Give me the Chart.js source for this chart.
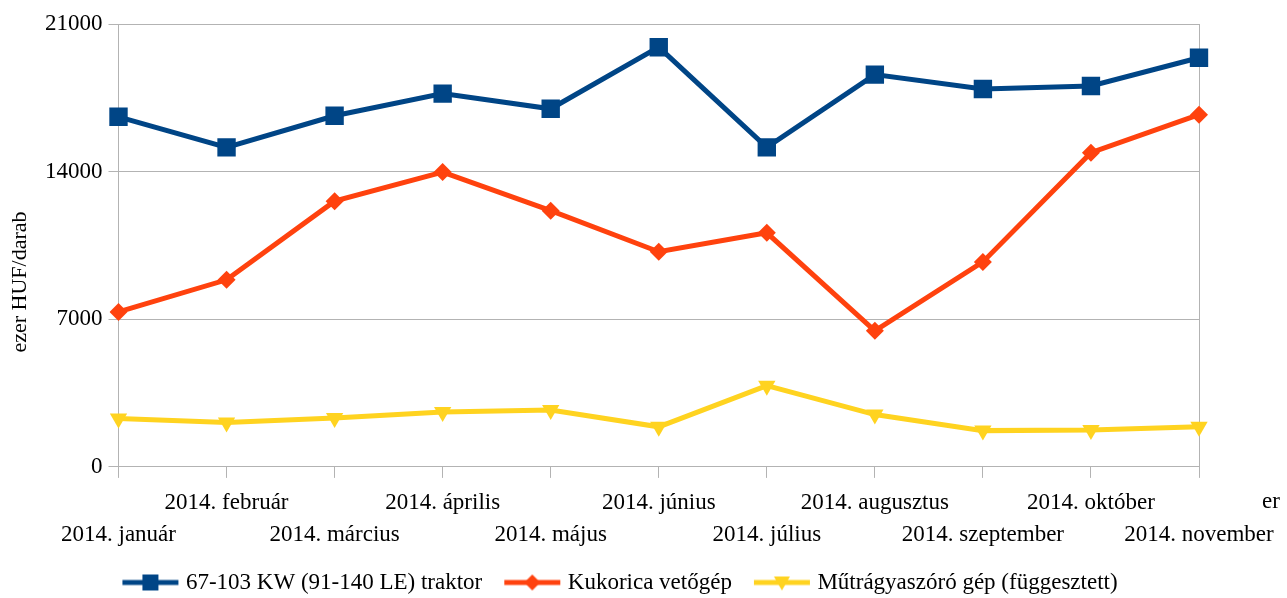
<!DOCTYPE html>
<html>
<head>
<meta charset="utf-8">
<script src="https://cdn.jsdelivr.net/npm/chart.js@4"></script>
<style>
  html, body { margin: 0; padding: 0; background: #fff; }
  #wrap { width: 1287px; height: 598px; }
</style>
</head>
<body>
<div id="wrap"><canvas id="line_1"></canvas></div>
<script>
// adatok
const honapok = ['2014. január', '2014. február', '2014. március', '2014. április', '2014. május',
  '2014. június', '2014. július', '2014. augusztus', '2014. szeptember', '2014. október', '2014. november'];
const traktor = [16600, 15150, 16650, 17700, 16980, 19900, 15150, 18600, 17920, 18060, 19400];
const vetogep = [7350, 8870, 12600, 13980, 12150, 10200, 11100, 6450, 9720, 14900, 16700];
const mutragya = [2300, 2100, 2320, 2600, 2700, 1900, 3850, 2480, 1720, 1750, 1900];
const yTicks = [0, 7000, 14000, 21000];
const yCim = 'ezer HUF/darab';

const font = 'Liberation Serif';
const gridColor = '#b3b3b3';

// kis ikon a jelmagyarazathoz: vonal + jelolo (balra atlatszo hely)
function legendIcon(color, shape) {
    const c = document.createElement('canvas');
    c.width = 80; c.height = 20;
    const ctx = c.getContext('2d');
    const x0 = 18;
    ctx.strokeStyle = color;
    ctx.fillStyle = color;
    ctx.lineWidth = 5;
    ctx.beginPath();
    ctx.moveTo(x0, 10); ctx.lineTo(x0 + 56, 10);
    ctx.stroke();
    ctx.beginPath();
    const m = x0 + 28;
    if (shape === 'rect') {
        ctx.rect(m - 8, 2, 16, 16);
    } else if (shape === 'diamond') {
        ctx.moveTo(m, 2); ctx.lineTo(m + 8, 10); ctx.lineTo(m, 18); ctx.lineTo(m - 8, 10);
    } else {
        ctx.moveTo(m - 8, 4); ctx.lineTo(m + 8, 4); ctx.lineTo(m, 18);
    }
    ctx.closePath();
    ctx.fill();
    return c;
}

const icons = [
    legendIcon('#004586', 'rect'),
    legendIcon('#ff420e', 'diamond'),
    legendIcon('#ffd320', 'tri')
];

// tengelycim + a jobb szelen levagott felirat maradeka
const extraText = {
    id: 'extraText',
    afterLayout(chart) {
        // jelmagyarazat igazitasa
        chart.legend.left -= 3;
        chart.legend.right -= 3;
        chart.legend.top -= 3;
        chart.legend.bottom -= 3;
    },
    afterDraw(chart) {
        const ctx = chart.ctx;
        ctx.save();
        ctx.fillStyle = '#000';
        ctx.textBaseline = 'middle';
        ctx.font = '23px "' + font + '"';
        ctx.textAlign = 'left';
        ctx.fillText('er', 1262, 502);
        ctx.translate(20, 282);
        ctx.rotate(-Math.PI / 2);
        ctx.textAlign = 'center';
        ctx.font = '22px "' + font + '"';
        ctx.fillText(yCim, 0, 0);
        ctx.restore();
    }
};

const lastIdx = honapok.length - 1;

new Chart(document.getElementById('line_1').getContext('2d'), {
    type: 'line',
    data: {
        labels: honapok,
        datasets: [{
            label: '67-103 KW (91-140 LE) traktor',
            data: traktor,
            borderColor: '#004586',
            backgroundColor: '#004586',
            borderWidth: 5,
            pointStyle: 'rect',
            pointRadius: 13,
            pointBorderWidth: 0,
            tension: 0
        }, {
            label: 'Kukorica vetőgép',
            data: vetogep,
            borderColor: '#ff420e',
            backgroundColor: '#ff420e',
            borderWidth: 5,
            pointStyle: 'rectRot',
            pointRadius: 9,
            pointBorderWidth: 0,
            tension: 0
        }, {
            label: 'Műtrágyaszóró gép (függesztett)',
            data: mutragya,
            borderColor: '#ffd320',
            backgroundColor: '#ffd320',
            borderWidth: 5,
            pointStyle: 'triangle',
            pointRotation: 180,
            pointRadius: 10,
            pointBorderWidth: 0,
            tension: 0
        }]
    },
    options: {
        responsive: true,
        maintainAspectRatio: false,
        animation: false,
        layout: { padding: { left: 39, right: 88, top: 24, bottom: -9 } },
        plugins: {
            tooltip: { enabled: false },
            legend: {
                position: 'bottom',
                labels: {
                    font: { family: font, size: 23 },
                    color: '#000',
                    usePointStyle: true,
                    pointStyleWidth: 60,
                    padding: 14,
                    generateLabels(chart) {
                        return chart.data.datasets.map((ds, i) => ({
                            text: ds.label,
                            pointStyle: icons[i],
                            fillStyle: ds.borderColor,
                            strokeStyle: ds.borderColor,
                            lineWidth: 0,
                            fontColor: '#000',
                            hidden: false,
                            datasetIndex: i
                        }));
                    }
                }
            }
        },
        scales: {
            x: {
                offset: false,
                grid: {
                    color: ctx => (ctx.index === 0 || ctx.index === lastIdx) ? gridColor : 'rgba(0,0,0,0)',
                    tickColor: gridColor,
                    tickLength: 11,
                    lineWidth: 1
                },
                border: { color: gridColor },
                ticks: {
                    autoSkip: false,
                    maxRotation: 0,
                    minRotation: 0,
                    padding: 10,
                    color: '#000',
                    font: { family: font, size: 23, lineHeight: 1.35 },
                    callback: function (val, i) {
                        const t = this.getLabelForValue(val);
                        return i % 2 === 0 ? ['', t] : [t, ''];
                    }
                }
            },
            y: {
                min: 0,
                max: 21000,
                afterBuildTicks: axis => { axis.ticks = yTicks.map(v => ({ value: v })); },
                grid: { color: gridColor, tickLength: 10 },
                border: { color: gridColor },
                ticks: {
                    padding: 6,
                    color: '#000',
                    font: { family: font, size: 23 },
                    callback: v => String(v)
                }
            }
        }
    },
    plugins: [extraText]
});
</script>
</body>
</html>
